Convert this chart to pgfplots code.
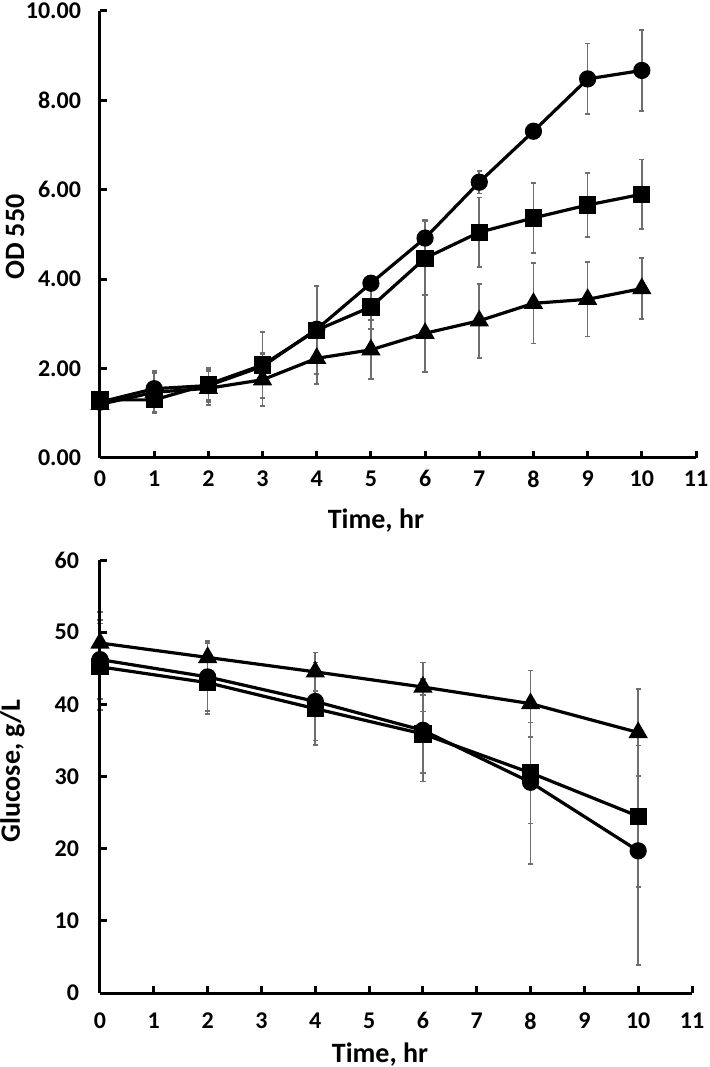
\documentclass[border=0pt]{standalone}
\usepackage{fontspec}
\setmainfont{Carlito}
\usepackage{pgfplots}
\usepackage{pgfplotstable}
\pgfplotsset{compat=1.18}

\pgfplotstableread{
t  c     ce    s     se    r     re
0  1.25  0.10  1.30  0.10  1.20  0.10
1  1.55  0.40  1.30  0.30  1.47  0.43
2  1.62  0.36  1.65  0.36  1.56  0.38
3  2.05  0.30  2.08  0.74  1.75  0.58
4  2.88  0.12  2.86  0.98  2.23  0.58
5  3.91  0.10  3.38  0.50  2.42  0.66
6  4.92  0.40  4.47  0.83  2.79  0.87
7  6.17  0.25  5.05  0.78  3.07  0.83
8  7.31  0.05  5.37  0.78  3.46  0.90
9  8.48  0.79  5.66  0.72  3.55  0.83
10 8.67  0.90  5.90  0.78  3.79  0.68
}\odtable

\pgfplotstableread{
t  c     ce    s     se    r     re
0  46.2  5.5   45.2  6.0   48.5  4.3
2  43.8  4.7   43.0  4.3   46.5  2.3
4  40.4  5.4   39.4  5.0   44.5  2.7
6  36.4  7.1   35.9  5.4   42.4  3.4
8  29.2  11.3  30.5  7.0   40.1  4.6
10 19.7  15.8  24.5  9.8   36.1  6.0
}\glctable

\definecolor{errgray}{RGB}{110,110,110}

\pgfplotsset{
  myaxis/.style={
    scale only axis,
    axis lines=left,
    axis line style={line width=1.5pt, -},
    every outer x axis line/.append style={-},
    every outer y axis line/.append style={-},
    tick align=inside,
    major tick length=3.5pt,
    tick style={line width=1.5pt, black},
    xmin=0, xmax=11,
    xtick={0,1,...,11},
    clip=false,
    axis on top,
    /pgf/number format/assume math mode=true,
    tick label style={font=\bfseries\fontsize{12}{14}\selectfont},
    label style={font=\bfseries\fontsize{14}{16}\selectfont},
  },
  errplot/.style={
    forget plot, only marks, mark=none,
    error bars/.cd, y dir=both, y explicit,
    error bar style={errgray, line width=0.85pt},
    error mark options={rotate=90, mark size=1.3pt, errgray, line width=0.85pt},
  },
  ser/.style={black, line width=1.6pt},
}

\begin{document}
\begin{tikzpicture}
\path[use as bounding box] (0,0) rectangle (354.5pt,533.5pt);
% Top: OD 550
\begin{axis}[myaxis,
  at={(50pt,304.5pt)}, anchor=south west,
  width=298pt, height=223.5pt,
  ymin=0, ymax=10,
  ytick={0,2,4,6,8,10},
  yticklabels={0.00,2.00,4.00,6.00,8.00,10.00},
  yticklabel style={xshift=-6pt},
  xticklabel style={yshift=-2.7pt},
  xlabel={Time, hr},
  ylabel={OD 550},
  xlabel style={at={(axis description cs:0.463,-0.139)}, anchor=center},
  ylabel style={at={(axis description cs:-0.1426,0.494)}, anchor=center, rotate=0},
]
\addplot[errplot] table[x=t, y=r, y error=re] {\odtable};
\addplot[errplot] table[x=t, y=s, y error=se] {\odtable};
\addplot[errplot] table[x=t, y=c, y error=ce] {\odtable};
\addplot[ser, mark=triangle*, mark size=4pt] table[x=t, y=r] {\odtable};
\addplot[ser, mark=square*, mark size=3.5pt] table[x=t, y=s] {\odtable};
\addplot[ser, mark=*, mark size=3.5pt] table[x=t, y=c] {\odtable};
\end{axis}
% Bottom: Glucose
\begin{axis}[myaxis,
  at={(50pt,37pt)}, anchor=south west,
  width=296pt, height=216.5pt,
  ymin=0, ymax=60,
  ytick={0,10,...,60},
  yticklabel style={xshift=-7pt},
  xticklabel style={yshift=-6.2pt},
  xlabel={Time, hr},
  ylabel={Glucose, g/L},
  xlabel style={at={(axis description cs:0.473,-0.143)}, anchor=center},
  ylabel style={at={(axis description cs:-0.148,0.513)}, anchor=center, rotate=0},
]
\addplot[errplot] table[x=t, y=r, y error=re] {\glctable};
\addplot[errplot] table[x=t, y=s, y error=se] {\glctable};
\addplot[errplot] table[x=t, y=c, y error=ce] {\glctable};
\addplot[ser, mark=triangle*, mark size=4pt] table[x=t, y=r] {\glctable};
\addplot[ser, mark=square*, mark size=3.5pt] table[x=t, y=s] {\glctable};
\addplot[ser, mark=*, mark size=3.5pt] table[x=t, y=c] {\glctable};
\end{axis}
\end{tikzpicture}
\end{document}
